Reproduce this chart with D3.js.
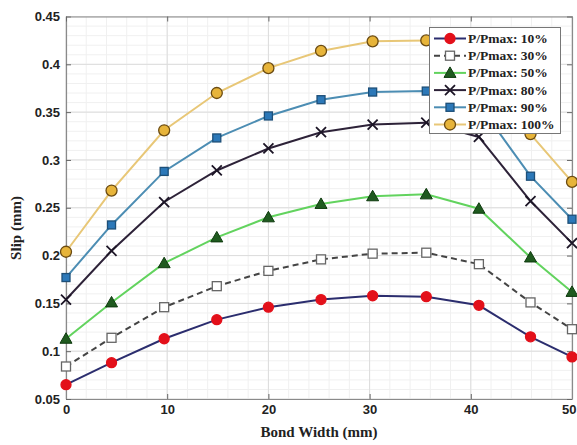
<!DOCTYPE html>
<html><head><meta charset="utf-8">
<script src="https://cdn.jsdelivr.net/npm/d3@7"></script>
<style>body{margin:0;background:#fff}</style>
</head><body>
<svg id="c" width="577" height="445"></svg>
<script>
const bondWidth = [0, 4.5, 9.7, 14.9, 20, 25.2, 30.3, 35.6, 40.8, 45.9, 50];
const p10  = [0.065, 0.088, 0.113, 0.133, 0.146, 0.154, 0.158, 0.157, 0.148, 0.115, 0.094];
const p30  = [0.084, 0.114, 0.146, 0.168, 0.184, 0.196, 0.202, 0.203, 0.191, 0.151, 0.123];
const p50  = [0.113, 0.151, 0.192, 0.219, 0.240, 0.254, 0.262, 0.264, 0.249, 0.198, 0.162];
const p80  = [0.154, 0.205, 0.256, 0.289, 0.312, 0.329, 0.337, 0.339, 0.324, 0.257, 0.213];
const p90  = [0.177, 0.232, 0.288, 0.323, 0.346, 0.363, 0.371, 0.372, 0.358, 0.283, 0.238];
const p100 = [0.204, 0.268, 0.331, 0.370, 0.396, 0.414, 0.424, 0.425, 0.410, 0.327, 0.277];
const seriesNames = ["P/Pmax: 10%", "P/Pmax: 30%", "P/Pmax: 50%", "P/Pmax: 80%", "P/Pmax: 90%", "P/Pmax: 100%"];
const xTicks = [0, 10, 20, 30, 40, 50];
const yTicks = [0.05, 0.1, 0.15, 0.2, 0.25, 0.3, 0.35, 0.4, 0.45];

const styles = [
  {vals: p10,  line: "#2b2d6e", dash: null, marker: "circle", fill: "#e3101a", stroke: "#e3101a", r: 5},
  {vals: p30,  line: "#444", dash: "6,4", marker: "square", fill: "#fff", stroke: "#666", r: 4.5},
  {vals: p50,  line: "#62d35e", dash: null, marker: "triangle", fill: "#1f5a1f", stroke: "#0e3a0e", r: 6},
  {vals: p80,  line: "#2d2238", dash: null, marker: "x", fill: "none", stroke: "#1c1526", r: 5},
  {vals: p90,  line: "#4c8db3", dash: null, marker: "square", fill: "#2c78b8", stroke: "#1d4f78", r: 4},
  {vals: p100, line: "#e8c777", dash: null, marker: "circle", fill: "#e7b43a", stroke: "#6b4b12", r: 5.5}
];

const svg = d3.select("#c");
const L = 66, R = 572, T = 16.5, B = 399;
const x = d3.scaleLinear().domain([0, 50]).range([L, R]);
const y = d3.scaleLinear().domain([0.05, 0.45]).range([B, T]);

// minor grid
const g = svg.append("g");
const xMinor = d3.range(0, 50.001, 2);
const yMinor = d3.range(0.05, 0.4501, 0.01);
g.selectAll(".xm").data(xMinor).enter().append("line")
  .attr("x1", d => x(d)).attr("x2", d => x(d)).attr("y1", T).attr("y2", B)
  .attr("stroke", "#f0f0f0").attr("stroke-width", 1);
g.selectAll(".ym").data(yMinor).enter().append("line")
  .attr("x1", L).attr("x2", R).attr("y1", d => y(d)).attr("y2", d => y(d))
  .attr("stroke", "#f0f0f0").attr("stroke-width", 1);
// major grid
g.selectAll(".xg").data(xTicks).enter().append("line")
  .attr("x1", d => x(d)).attr("x2", d => x(d)).attr("y1", T).attr("y2", B)
  .attr("stroke", "#dcdcdc").attr("stroke-width", 1);
g.selectAll(".yg").data(yTicks).enter().append("line")
  .attr("x1", L).attr("x2", R).attr("y1", d => y(d)).attr("y2", d => y(d))
  .attr("stroke", "#dcdcdc").attr("stroke-width", 1);

// axes
const fmtY = d => d3.format("")(+d.toFixed(2));
const xAxis = d3.axisBottom(x).tickValues(xTicks).tickSizeInner(-5).tickSizeOuter(0).tickPadding(6);
const yAxis = d3.axisLeft(y).tickValues(yTicks).tickFormat(fmtY).tickSizeInner(-5).tickSizeOuter(0).tickPadding(6);
const xa = svg.append("g").attr("transform", `translate(0,${B})`).call(xAxis);
const ya = svg.append("g").attr("transform", `translate(${L},0)`).call(yAxis);
const xt = svg.append("g").attr("transform", `translate(0,${T})`).call(d3.axisTop(x).tickValues(xTicks).tickSizeInner(-5).tickSizeOuter(0).tickFormat(""));
const yr = svg.append("g").attr("transform", `translate(${R},0)`).call(d3.axisRight(y).tickValues(yTicks).tickSizeInner(-5).tickSizeOuter(0).tickFormat(""));
[xa, ya, xt, yr].forEach(a => {
  a.select(".domain").attr("stroke", "#8a8a8a").attr("stroke-width", 1.2);
  a.selectAll(".tick line").attr("stroke", "#666");
  a.selectAll("text").attr("font-family", "Liberation Sans, Arial, sans-serif")
    .attr("font-weight", "bold").attr("font-size", 13).attr("fill", "#222");
});
// keep the last x label inside the window (it sits at the right edge)
xa.selectAll(".tick text").filter(d => d === 50).attr("text-anchor", "end").attr("x", 576 - x(50));

// lines and markers
const lineGen = d3.line().x((d, i) => x(bondWidth[i])).y(d => y(d));
function drawMarker(sel, s, cx, cy) {
  if (s.marker === "circle") {
    sel.append("circle").attr("cx", cx).attr("cy", cy).attr("r", s.r)
      .attr("fill", s.fill).attr("stroke", s.stroke).attr("stroke-width", 1.3);
  } else if (s.marker === "square") {
    sel.append("rect").attr("x", cx - s.r).attr("y", cy - s.r).attr("width", 2 * s.r).attr("height", 2 * s.r)
      .attr("fill", s.fill).attr("stroke", s.stroke).attr("stroke-width", 1.3);
  } else if (s.marker === "triangle") {
    const r = s.r;
    sel.append("path").attr("d", `M${cx},${cy - r}L${cx + r},${cy + r * 0.75}L${cx - r},${cy + r * 0.75}Z`)
      .attr("fill", s.fill).attr("stroke", s.stroke).attr("stroke-width", 1);
  } else if (s.marker === "x") {
    const r = s.r;
    sel.append("path").attr("d", `M${cx - r},${cy - r}L${cx + r},${cy + r}M${cx - r},${cy + r}L${cx + r},${cy - r}`)
      .attr("stroke", s.stroke).attr("stroke-width", 1.8).attr("fill", "none");
  }
}
styles.forEach(s => {
  const gs = svg.append("g");
  gs.append("path").datum(s.vals).attr("d", lineGen).attr("fill", "none")
    .attr("stroke", s.line).attr("stroke-width", 2).attr("stroke-dasharray", s.dash);
  s.vals.forEach((v, i) => drawMarker(gs, s, x(bondWidth[i]), y(v)));
});

// legend
const lg = svg.append("g");
lg.append("rect").attr("x", 429.5).attr("y", 27.5).attr("width", 131).attr("height", 106)
  .attr("fill", "#fff").attr("stroke", "#777").attr("stroke-width", 1);
styles.forEach((s, i) => {
  const cy = 38.5 + i * 17.2;
  lg.append("line").attr("x1", 434).attr("x2", 466).attr("y1", cy).attr("y2", cy)
    .attr("stroke", s.line).attr("stroke-width", 2).attr("stroke-dasharray", s.dash);
  drawMarker(lg, s, 450, cy);
  lg.append("text").attr("x", 468).attr("y", cy + 4.5).text(seriesNames[i])
    .attr("font-family", "Liberation Serif, Times New Roman, serif").attr("font-weight", "bold")
    .attr("font-size", 13.5).attr("fill", "#222");
});

// axis titles
svg.append("text").attr("x", 319).attr("y", 437).attr("text-anchor", "middle")
  .attr("font-family", "Liberation Serif, Times New Roman, serif").attr("font-weight", "bold")
  .attr("font-size", 15).attr("fill", "#222").text("Bond Width (mm)");
svg.append("text").attr("transform", "translate(21,228) rotate(-90)").attr("text-anchor", "middle")
  .attr("font-family", "Liberation Serif, Times New Roman, serif").attr("font-weight", "bold")
  .attr("font-size", 15).attr("fill", "#222").text("Slip (mm)");
</script>
</body></html>
